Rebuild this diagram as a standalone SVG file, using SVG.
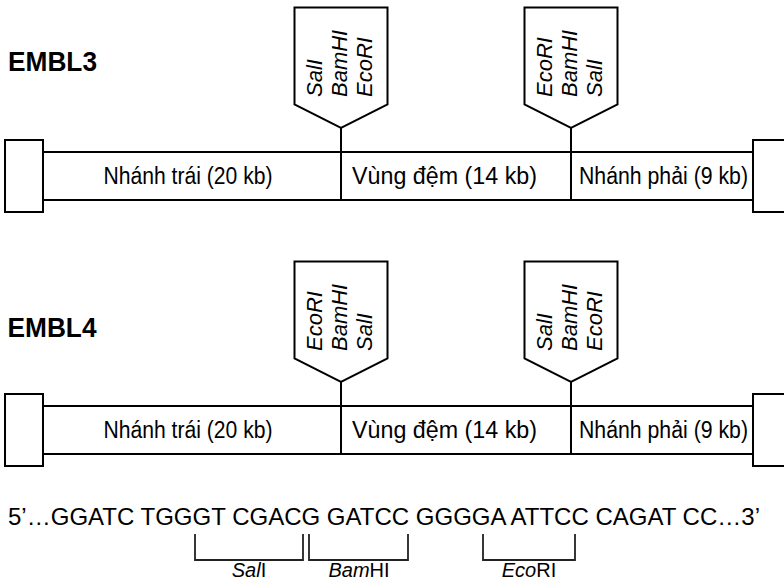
<svg xmlns="http://www.w3.org/2000/svg" width="784" height="582" viewBox="0 0 784 582">
  <style>
    .shape { fill: #ffffff; stroke: #000000; stroke-width: 2; }
    .link { fill: none; stroke: #000000; stroke-width: 2; }
    .bracket { fill: none; stroke: #222222; stroke-width: 1.8; }
    .title { font-family: "Liberation Sans", Arial, sans-serif; font-weight: bold; font-size: 27px; fill: #000; }
    .arm { font-family: "Liberation Sans", Arial, sans-serif; font-size: 23px; fill: #000; }
    .site { font-family: "Liberation Sans", Arial, sans-serif; font-style: italic; font-size: 22px; fill: #000; }
    .seq { font-family: "Liberation Sans", Arial, sans-serif; font-size: 23.6px; fill: #000; }
    .enz { font-family: "Liberation Sans", Arial, sans-serif; font-size: 20px; fill: #000; text-anchor: middle; }
    .it { font-style: italic; }
  </style>
  <defs>
    <!-- polylinker flag: box with a pointed base, centred on x=0 -->
    <polygon id="flag" points="-46.5,0 46.5,0 46.5,97 0,120.5 -46.5,97"/>
  </defs>

  <rect width="784" height="582" fill="#ffffff"/>

  <!-- ===== EMBL3 ===== -->
  <g id="embl3">
    <g id="embl3-title"><text class="title" x="8" y="71" textLength="89" lengthAdjust="spacingAndGlyphs">EMBL3</text></g>

    <g id="embl3-cos-left"><rect class="shape" x="5" y="140" width="38" height="72"/></g>
    <g id="embl3-cos-right"><rect class="shape" x="753" y="140" width="38" height="72"/></g>

    <g id="embl3-left-arm">
      <rect class="shape" x="43" y="152" width="298" height="48"/>
      <text class="arm" x="103.5" y="184" textLength="169" lengthAdjust="spacingAndGlyphs">Nhánh trái (20 kb)</text>
    </g>
    <g id="embl3-stuffer">
      <rect class="shape" x="341" y="152" width="230" height="48"/>
      <text class="arm" x="352" y="184" textLength="185" lengthAdjust="spacingAndGlyphs">Vùng đệm (14 kb)</text>
    </g>
    <g id="embl3-right-arm">
      <rect class="shape" x="571" y="152" width="182" height="48"/>
      <text class="arm" x="579" y="184" textLength="169" lengthAdjust="spacingAndGlyphs">Nhánh phải (9 kb)</text>
    </g>

    <g id="embl3-sites-left">
      <use href="#flag" class="shape" x="341" y="7.5"/>
      <text class="site" transform="translate(321.5,97) rotate(-90)">SalI</text>
      <text class="site" transform="translate(346.5,97) rotate(-90)">BamHI</text>
      <text class="site" transform="translate(372,97) rotate(-90)">EcoRI</text>
    </g>
    <g id="embl3-sites-right">
      <use href="#flag" class="shape" x="571" y="7.5"/>
      <text class="site" transform="translate(551.5,97) rotate(-90)">EcoRI</text>
      <text class="site" transform="translate(576.5,97) rotate(-90)">BamHI</text>
      <text class="site" transform="translate(601.5,97) rotate(-90)">SalI</text>
    </g>
  </g>

  <!-- ===== EMBL4 ===== -->
  <g id="embl4">
    <g id="embl4-title"><text class="title" x="7.5" y="337" textLength="89" lengthAdjust="spacingAndGlyphs">EMBL4</text></g>

    <g id="embl4-cos-left"><rect class="shape" x="5" y="394" width="38" height="72"/></g>
    <g id="embl4-cos-right"><rect class="shape" x="753" y="394" width="38" height="72"/></g>

    <g id="embl4-left-arm">
      <rect class="shape" x="43" y="406" width="298" height="48"/>
      <text class="arm" x="103.5" y="438" textLength="169" lengthAdjust="spacingAndGlyphs">Nhánh trái (20 kb)</text>
    </g>
    <g id="embl4-stuffer">
      <rect class="shape" x="341" y="406" width="230" height="48"/>
      <text class="arm" x="352" y="438" textLength="185" lengthAdjust="spacingAndGlyphs">Vùng đệm (14 kb)</text>
    </g>
    <g id="embl4-right-arm">
      <rect class="shape" x="571" y="406" width="182" height="48"/>
      <text class="arm" x="579" y="438" textLength="169" lengthAdjust="spacingAndGlyphs">Nhánh phải (9 kb)</text>
    </g>

    <g id="embl4-sites-left">
      <use href="#flag" class="shape" x="341" y="261.5"/>
      <text class="site" transform="translate(321.5,351) rotate(-90)">EcoRI</text>
      <text class="site" transform="translate(346.5,351) rotate(-90)">BamHI</text>
      <text class="site" transform="translate(372,351) rotate(-90)">SalI</text>
    </g>
    <g id="embl4-sites-right">
      <use href="#flag" class="shape" x="571" y="261.5"/>
      <text class="site" transform="translate(551.5,351) rotate(-90)">SalI</text>
      <text class="site" transform="translate(576.5,351) rotate(-90)">BamHI</text>
      <text class="site" transform="translate(601.5,351) rotate(-90)">EcoRI</text>
    </g>
  </g>

  <!-- stems from each polylinker flag down to its junction in the arm -->
  <g id="connectors">
    <line class="link" x1="341" y1="128" x2="341" y2="200"/>
    <line class="link" x1="571" y1="128" x2="571" y2="200"/>
    <line class="link" x1="341" y1="382" x2="341" y2="454"/>
    <line class="link" x1="571" y1="382" x2="571" y2="454"/>
  </g>

  <!-- ===== polylinker sequence ===== -->
  <g id="polylinker">
    <text class="seq" x="8" y="525" textLength="752" lengthAdjust="spacingAndGlyphs">5’…GGATC TGGGT CGACG GATCC GGGGA ATTCC CAGAT CC…3’</text>
    <g id="site-sali">
      <polyline class="bracket" points="195,534 195,560 303,560 303,534"/>
      <text class="enz" x="249" y="577"><tspan class="it">Sal</tspan>I</text>
    </g>
    <g id="site-bamhi">
      <polyline class="bracket" points="309,534 309,560 408,560 408,534"/>
      <text class="enz" x="359" y="577"><tspan class="it">Bam</tspan>HI</text>
    </g>
    <g id="site-ecori">
      <polyline class="bracket" points="483,534 483,560 575,560 575,534"/>
      <text class="enz" x="529" y="577"><tspan class="it">Eco</tspan>RI</text>
    </g>
  </g>
</svg>
